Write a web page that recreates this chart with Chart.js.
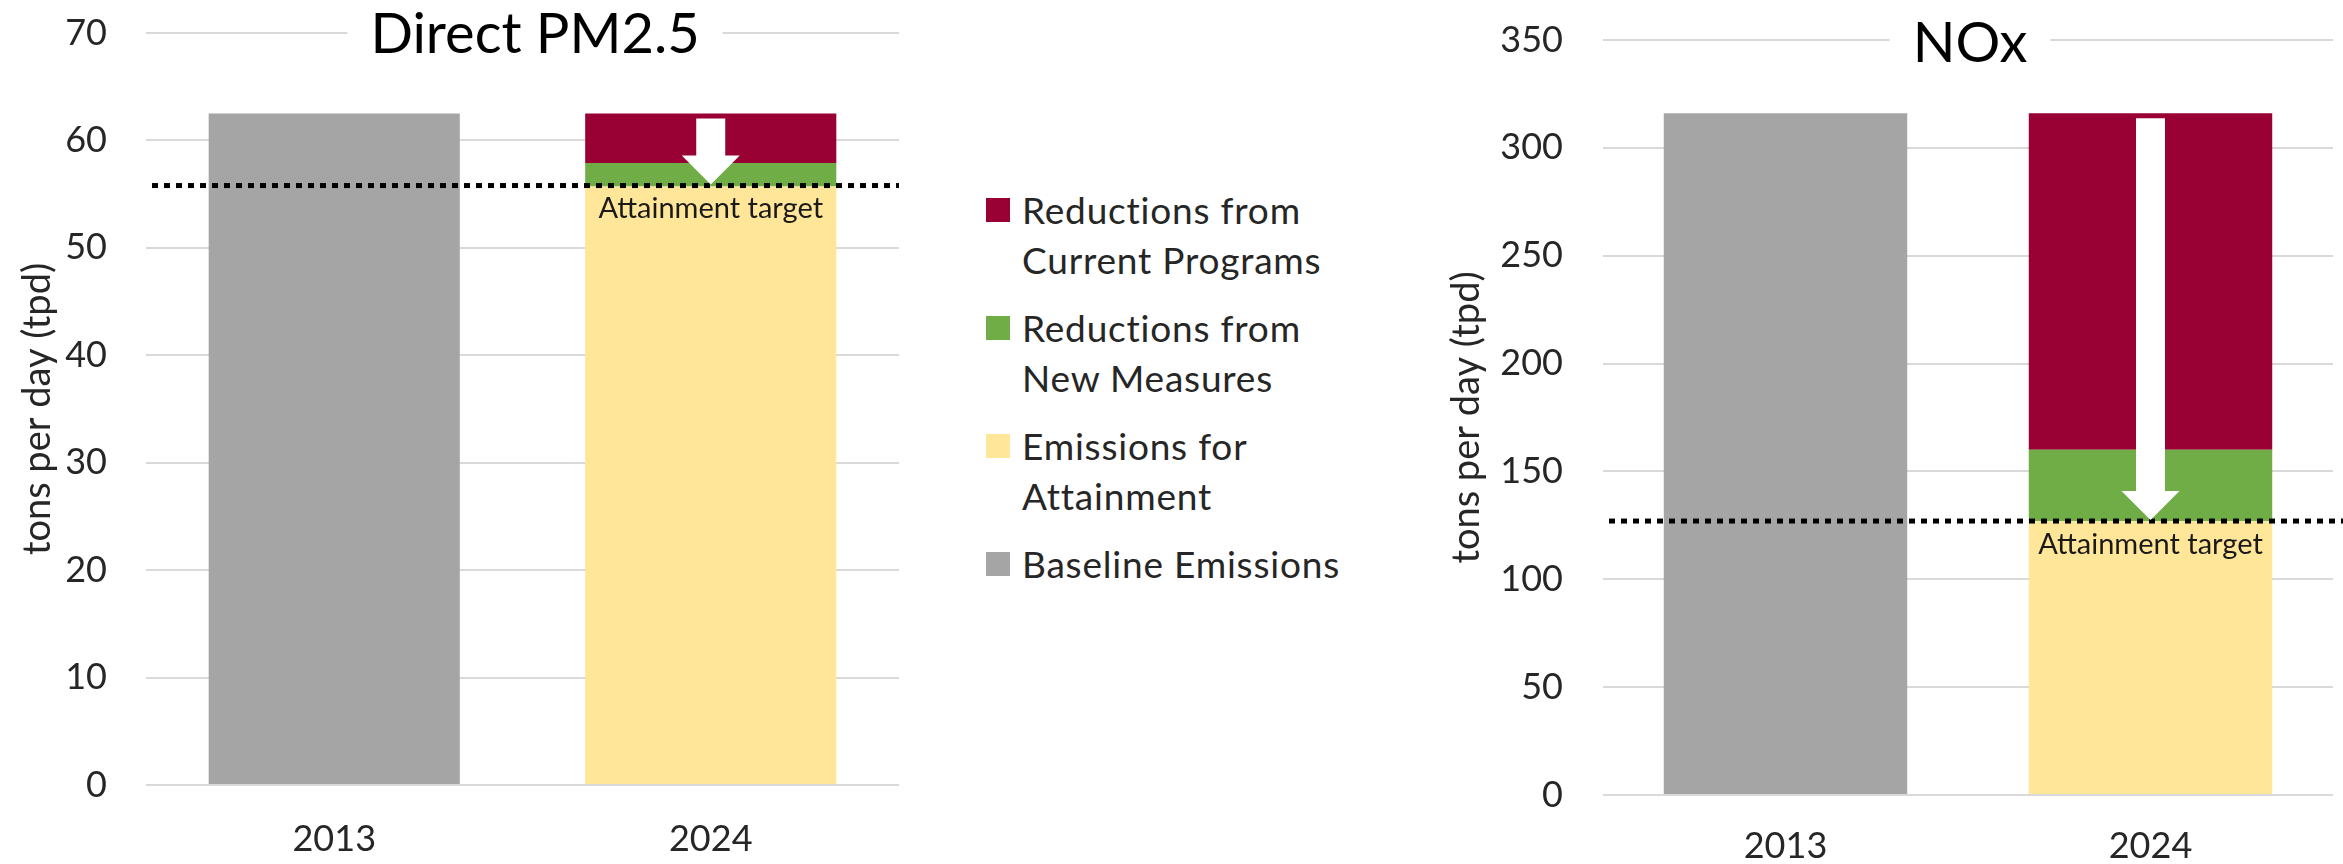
<!DOCTYPE html>
<html lang="en">
<head>
<meta charset="UTF-8" />
<title>Direct PM2.5 and NOx - Attainment</title>
<script src="https://cdn.jsdelivr.net/npm/chart.js"></script>
<style>
	body {
		margin: 0;
		width: 2343px;
		height: 864px;
		background: #fff;
		font-family: Lato, "Open Sans", sans-serif;
		position: relative;
		overflow: hidden;
	}
	.chart-box {
		position: absolute;
		top: 0;
		height: 864px;
	}
	#pm-box { left: 0; width: 905px; }
	#nox-box { left: 1400px; width: 943px; }
	#legend {
		position: absolute;
		left: 986px;
		top: 185px;
	}
	.legend-item {
		display: flex;
		align-items: flex-start;
		margin-bottom: 18px;
	}
	.swatch {
		width: 24px;
		height: 24px;
		margin-top: 13px;
		margin-right: 12px;
		flex: none;
	}
	.legend-text {
		font-size: 37px;
		letter-spacing: 0.8px;
		line-height: 50px;
		color: #262626;
		white-space: pre-line;
	}
</style>
</head>
<body>
<div class="chart-box" id="pm-box"><canvas id="pmChart"></canvas></div>
<div id="legend"></div>
<div class="chart-box" id="nox-box"><canvas id="noxChart"></canvas></div>

<script>
const years = ["2013", "2024"];
const seriesLabels = ["Baseline Emissions", "Emissions for\nAttainment", "Reductions from\nNew Measures", "Reductions from\nCurrent Programs"];
const seriesColors = ["#A5A5A5", "#FFE699", "#70AD47", "#990033"];

// Direct PM2.5 (tpd)
const pmBaseline = [62.5, null];
const pmAttainment = [null, 55.7];
const pmNewMeasures = [null, 2.2];
const pmCurrentPrograms = [null, 4.6];
const pmTarget = 55.8;
const pmTicks = [0, 10, 20, 30, 40, 50, 60, 70];

// NOx (tpd)
const noxBaseline = [316, null];
const noxAttainment = [null, 127];
const noxNewMeasures = [null, 33];
const noxCurrentPrograms = [null, 156];
const noxTarget = 127;
const noxTicks = [0, 50, 100, 150, 200, 250, 300, 350];

Chart.defaults.font.family = "Lato, 'Open Sans', sans-serif";
Chart.defaults.color = "#262626";

// title over the top gridline, dotted target line, arrow and label
const overlayPlugin = {
	id: "overlay",
	afterDatasetsDraw(chart, args, opts) {
		const { ctx, chartArea, scales: { x, y } } = chart;
		const yT = y.getPixelForValue(opts.target);
		const cx = x.getPixelForValue(1);
		const yTop = y.getPixelForValue(opts.barTop) + 5;

		ctx.save();
		// dotted target line
		ctx.strokeStyle = "#000";
		ctx.lineWidth = 5;
		ctx.setLineDash([6, 6]);
		ctx.beginPath();
		ctx.moveTo(chartArea.left + 6, yT);
		ctx.lineTo(opts.lineEnd, yT);
		ctx.stroke();
		ctx.setLineDash([]);

		// arrow
		const headH = 30, headW = 29, shaftW = 14.5;
		ctx.fillStyle = "#fff";
		ctx.beginPath();
		ctx.moveTo(cx - shaftW, yTop);
		ctx.lineTo(cx + shaftW, yTop);
		ctx.lineTo(cx + shaftW, yT - headH);
		ctx.lineTo(cx + headW, yT - headH);
		ctx.lineTo(cx, yT - 1);
		ctx.lineTo(cx - headW, yT - headH);
		ctx.lineTo(cx - shaftW, yT - headH);
		ctx.closePath();
		ctx.fill();

		// label under the line
		ctx.fillStyle = "#1a1a1a";
		ctx.font = "29px Lato, 'Open Sans', sans-serif";
		ctx.textAlign = "center";
		ctx.textBaseline = "top";
		ctx.fillText("Attainment target", cx, yT + 9);

		// chart title
		ctx.font = "56px Lato, 'Open Sans', sans-serif";
		const w = ctx.measureText(opts.title).width;
		ctx.fillStyle = "#fff";
		ctx.fillRect(opts.titleX - w / 2 - 23, chartArea.top - 6, w + 46, 12);
		ctx.fillStyle = "#000";
		ctx.textBaseline = "alphabetic";
		ctx.fillText(opts.title, opts.titleX, chartArea.top + opts.titleDy);
		ctx.restore();
	},
};

function makeChart(id, cfg) {
	const ctx = document.getElementById(id).getContext("2d");
	const values = [cfg.baseline, cfg.attainment, cfg.newMeasures, cfg.currentPrograms];
	return new Chart(ctx, {
		type: "bar",
		data: {
			labels: years,
			datasets: values.map((d, i) => ({
				label: seriesLabels[i],
				data: d,
				backgroundColor: seriesColors[i],
				borderWidth: 0,
				barPercentage: 1,
				categoryPercentage: 0.667,
			})),
		},
		options: {
			responsive: true,
			maintainAspectRatio: false,
			animation: false,
			devicePixelRatio: 1,
			layout: { padding: cfg.padding },
			scales: {
				x: {
					stacked: true,
					grid: { display: false, drawTicks: false },
					border: { display: false },
					ticks: { padding: cfg.xPad, font: { size: 36 }, color: "#262626" },
					afterFit: (s) => { s.height = cfg.xHeight; },
				},
				y: {
					stacked: true,
					min: 0,
					max: cfg.ticks[cfg.ticks.length - 1],
					afterBuildTicks: (s) => { s.ticks = cfg.ticks.map((v) => ({ value: v })); },
					grid: { color: "#D9D9D9", lineWidth: 2, drawTicks: false },
					border: { display: false },
					ticks: { padding: cfg.yPad, font: { size: 36 }, color: "#262626" },
					title: {
						display: true,
						text: "tons per day (tpd)",
						font: { size: 38 },
						color: "#262626",
						padding: { top: cfg.titlePad, bottom: 0 },
					},
					afterFit: (s) => {
						s.width = cfg.yWidth;
						s.paddingTop = 0;
						s.paddingBottom = 0;
					},
				},
			},
			plugins: {
				legend: { display: false },
				tooltip: { enabled: false },
				overlay: {
					target: cfg.target,
					barTop: cfg.attainment[1] + cfg.newMeasures[1] + cfg.currentPrograms[1],
					lineEnd: cfg.lineEnd,
					title: cfg.title,
					titleX: cfg.titleX,
					titleDy: cfg.titleDy,
				},
			},
		},
		plugins: [overlayPlugin],
	});
}

makeChart("pmChart", {
	title: "Direct PM2.5",
	baseline: pmBaseline,
	attainment: pmAttainment,
	newMeasures: pmNewMeasures,
	currentPrograms: pmCurrentPrograms,
	target: pmTarget,
	ticks: pmTicks,
	padding: { top: 33, right: 6, left: 0, bottom: 0 },
	yWidth: 146,
	xHeight: 79,
	yPad: 39,
	xPad: 33,
	titlePad: 15,
	lineEnd: 899,
	titleX: 535,
	titleDy: 20,
});

makeChart("noxChart", {
	title: "NOx",
	baseline: noxBaseline,
	attainment: noxAttainment,
	newMeasures: noxNewMeasures,
	currentPrograms: noxCurrentPrograms,
	target: noxTarget,
	ticks: noxTicks,
	padding: { top: 40, right: 10, left: 0, bottom: 0 },
	yWidth: 203,
	xHeight: 69,
	yPad: 40,
	xPad: 30,
	titlePad: 44,
	lineEnd: 943,
	titleX: 570,
	titleDy: 22,
});

// legend, top of the stack first
const legend = document.getElementById("legend");
for (let i = seriesLabels.length - 1; i >= 0; i--) {
	const item = document.createElement("div");
	item.className = "legend-item";
	item.innerHTML = '<span class="swatch" style="background:' + seriesColors[i] + '"></span>' +
		'<span class="legend-text"></span>';
	item.querySelector(".legend-text").textContent = seriesLabels[i];
	legend.appendChild(item);
}
</script>
</body>
</html>
